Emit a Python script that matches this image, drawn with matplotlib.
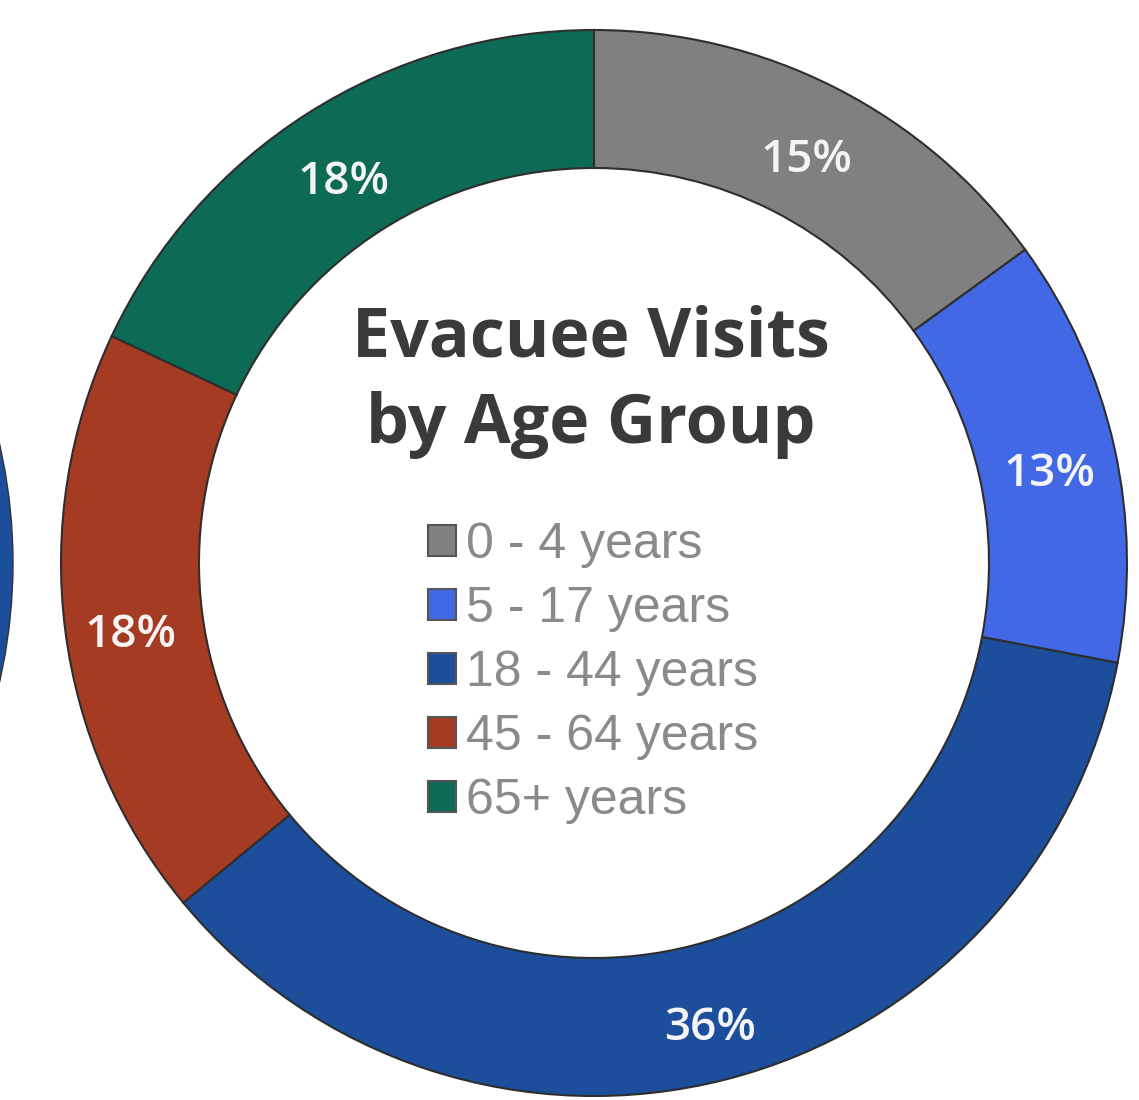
import matplotlib.pyplot as plt

age_groups = ["0 - 4 years", "5 - 17 years", "18 - 44 years", "45 - 64 years", "65+ years"]
shares = [15, 13, 36, 18, 18]
colors = ["#808080", "#4368e6", "#1c4e9c", "#a53b22", "#0c6a55"]

# edge of the neighbouring chart that is cut off at the left border
neighbour_share = [100]
neighbour_color = ["#1c4e9c"]

fig = plt.figure(figsize=(11.39, 11.0), dpi=100)
ax = fig.add_axes([0, 0, 1, 1])

ax.pie(neighbour_share, colors=neighbour_color, center=(-520, 537), radius=533,
       wedgeprops=dict(width=140, edgecolor="#333333", linewidth=1))

wedges, texts = ax.pie(
    shares, colors=colors, startangle=90, counterclock=False,
    center=(594, 537), radius=533,
    labels=[f"{s}%" for s in shares], labeldistance=0.876,
    wedgeprops=dict(width=138, edgecolor="#2e2e2e", linewidth=1.5),
    textprops=dict(color="#f4f4f4", fontsize=33, fontfamily="Open Sans", fontweight="semibold"),
)
for t in texts:
    t.set_ha("center")
    t.set_va("center_baseline")
    # nudge the labels a little lower inside the ring
    x, y = t.get_position()
    t.set_position((x, y - 8))

ax.set_xlim(0, 1139)
ax.set_ylim(0, 1100)
ax.set_aspect("equal")
ax.axis("off")

ax.text(591, 718, "Evacuee Visits\nby Age Group", ha="center", va="center",
        fontsize=49, fontweight="bold", fontfamily="Open Sans", color="#3a3a3a",
        linespacing=1.36)

leg = ax.legend(wedges, age_groups, loc="upper left", bbox_to_anchor=(0.354, 0.548),
                frameon=False, labelcolor="#8a8a8a",
                handlelength=0.55, handleheight=0.55, handletextpad=0.2,
                labelspacing=0.36, borderpad=0,
                prop=dict(family="Liberation Sans", size=36))
for h in leg.legend_handles:
    h.set_edgecolor("#555555")
    h.set_linewidth(1.5)

fig.savefig("out.png", dpi=100, facecolor="white")
